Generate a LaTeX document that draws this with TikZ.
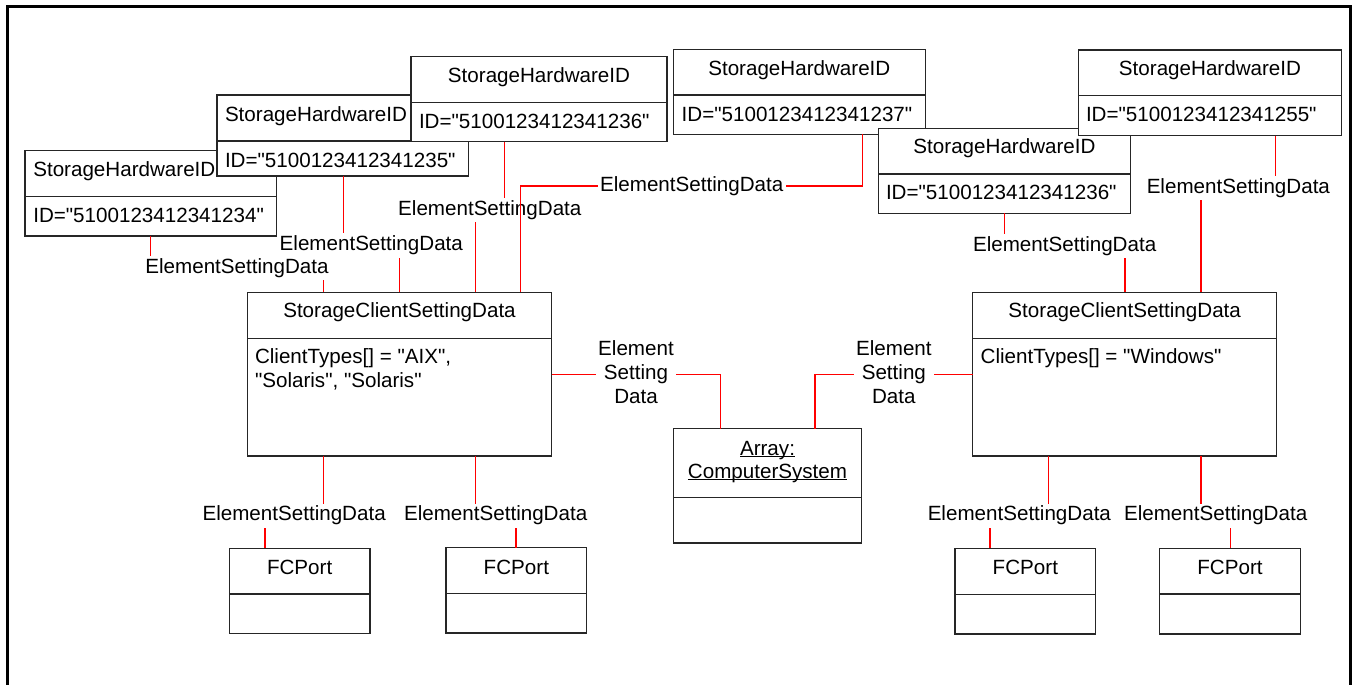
\documentclass[tikz,border=0pt]{standalone}
\usepackage{fontspec}
\setmainfont{Liberation Sans}[Ligatures=TeXOff]
\newcommand{\myul}[1]{\setbox0\hbox{#1}\rlap{\rule[-1.8pt]{\wd0}{1pt}}\box0}
\newcommand{\umlclass}[5]{%
  \node[cbox, minimum width=#3pt, minimum height=#5pt] (#1) at (#2) {};
  \draw[cline] ([yshift=-#4pt]#1.north west) -- ([yshift=-#4pt]#1.north east);}
\tikzset{
  cbox/.style={draw=black!85, fill=white, line width=1.2pt, anchor=north west, inner sep=0pt, outer sep=0pt},
  cline/.style={draw=black!85, line width=1.2pt},
  txt/.style={inner sep=0pt, outer sep=0pt, text=black, font=\fontsize{20.6}{24}\selectfont},
  conn/.style={draw=red, line width=1.5pt},
  lab/.style={fill=white, inner sep=2.5pt, text=black, font=\fontsize{20.6}{24}\selectfont},
  lab3/.style={lab, inner sep=2pt, align=center},
  frameline/.style={draw=black, line width=2.5pt}
}
\begin{document}
\begin{tikzpicture}[x=1pt,y=-1pt]
\useasboundingbox (0,0) rectangle (1354,685);
\draw[frameline] (7.7,685) -- (7.7,6.7) -- (1350.3,6.7) -- (1350.3,685);

% ---- left StorageHardwareID boxes
\umlclass{b1}{25,150.7}{251.7}{46}{85.3}
\node[txt, anchor=base west] (b1t) at ([xshift=8.3pt,yshift=-26pt]b1.north west) {StorageHardwareID};
\node[txt, anchor=base west] (b1a) at ([xshift=8.3pt,yshift=-72pt]b1.north west) {ID="5100123412341234"};

\umlclass{b2}{217,95}{251.7}{46}{81}
\node[txt, anchor=base west] (b2t) at ([xshift=8pt,yshift=-26pt]b2.north west) {StorageHardwareID};
\node[txt, anchor=base west] (b2a) at ([xshift=8pt,yshift=-72.3pt]b2.north west) {ID="5100123412341235"};

\umlclass{b3}{411,56.7}{256}{45.6}{85}
\node[txt, anchor=base] (b3t) at ([yshift=-26pt]b3.north) {StorageHardwareID};
\node[txt, anchor=base west] (b3a) at ([xshift=8pt,yshift=-71.6pt]b3.north west) {ID="5100123412341236"};

% ---- right StorageHardwareID boxes
\umlclass{b4}{673.3,49.3}{252}{45.7}{85}
\node[txt, anchor=base] (b4t) at ([yshift=-25.7pt]b4.north) {StorageHardwareID};
\node[txt, anchor=base west] (b4a) at ([xshift=8.4pt,yshift=-71.7pt]b4.north west) {ID="5100123412341237"};

\umlclass{b5}{878.3,128.3}{252.4}{45.7}{85}
\node[txt, anchor=base] (b5t) at ([yshift=-25.3pt]b5.north) {StorageHardwareID};
\node[txt, anchor=base west] (b5a) at ([xshift=7.7pt,yshift=-71.2pt]b5.north west) {ID="5100123412341236"};

\umlclass{b6}{1078.3,50}{263.4}{45.7}{85.7}
\node[txt, anchor=base] (b6t) at ([yshift=-25.3pt]b6.north) {StorageHardwareID};
\node[txt, anchor=base west] (b6a) at ([xshift=7.7pt,yshift=-71.7pt]b6.north west) {ID="5100123412341255"};

% ---- StorageClientSettingData boxes
\umlclass{sL}{247.3,292.3}{304.4}{46}{163.7}
\node[txt, anchor=base] (sLt) at ([yshift=-25.4pt]sL.north) {StorageClientSettingData};
\node[txt, anchor=north west, align=left] (sLa) at ([xshift=7.7pt,yshift=-56pt]sL.north west) {ClientTypes[] = "AIX",\\"Solaris", "Solaris"};

\umlclass{sR}{972.7,292.3}{304}{46}{163.7}
\node[txt, anchor=base] (sRt) at ([yshift=-25.4pt]sR.north) {StorageClientSettingData};
\node[txt, anchor=north west, align=left] (sRa) at ([xshift=8pt,yshift=-56pt]sR.north west) {ClientTypes[] = "Windows"};

% ---- Array
\umlclass{arr}{673.3,428.7}{188.4}{68.6}{114.3}
\node[txt, anchor=north, align=center, font=\fontsize{20.6}{23.3}\selectfont] (arrt) at ([yshift=-12.3pt]arr.north) {\myul{Array:}\\\myul{ComputerSystem}};

% ---- FCPorts
\umlclass{f1}{229.3,548.3}{140.7}{45.7}{85}
\node[txt, anchor=base] (f1t) at ([yshift=-25.7pt]f1.north) {FCPort};
\umlclass{f2}{446,547.7}{140.7}{46}{85.3}
\node[txt, anchor=base] (f2t) at ([yshift=-26.3pt]f2.north) {FCPort};
\umlclass{f3}{955,548.3}{140.7}{46}{85.7}
\node[txt, anchor=base] (f3t) at ([yshift=-25.7pt]f3.north) {FCPort};
\umlclass{f4}{1159.7,548.3}{140.6}{45.7}{85.7}
\node[txt, anchor=base] (f4t) at ([yshift=-25.7pt]f4.north) {FCPort};

% ---- connectors
\draw[conn] ([xshift=125.7pt]b1.south west) -- ++(0,32.3) -| node[lab,pos=0.25] (l1) {ElementSettingData} ([xshift=76pt]sL.north west);
\draw[conn] ([xshift=126.3pt]b2.south west) -- ++(0,69.5) -| node[lab,pos=0.25] (l2) {ElementSettingData} ([xshift=152pt]sL.north west);
\draw[conn] ([xshift=93.3pt]b3.south west) -- ++(0,68.6) -| node[lab,pos=0.25] (l3) {ElementSettingData} ([xshift=228pt]sL.north west);
\draw[conn] ([xshift=189.4pt]b4.south west) -- ++(0,51.7) -| node[lab,pos=0.25] (l4) {ElementSettingData} ([xshift=273.4pt]sL.north west);
\draw[conn] ([xshift=126pt]b5.south west) -- ++(0,32.7) -| node[lab,pos=0.25] (l5) {ElementSettingData} ([xshift=152.3pt]sR.north west);
\draw[conn] ([xshift=197.4pt]b6.south west) -- ++(0,52) -| node[lab,pos=0.25] (l6) {ElementSettingData} ([xshift=228.3pt]sR.north west);

\draw[conn] ([yshift=-82pt]sL.north east) -| node[lab3,pos=0.25,yshift=1.7pt] (l7) {Element\\Setting\\Data} ([xshift=47pt]arr.north west);
\draw[conn] ([xshift=141.7pt]arr.north west) |- node[lab3,pos=0.75,yshift=1.7pt] (l8) {Element\\Setting\\Data} ([yshift=-82pt]sR.north west);

\draw[conn] ([xshift=76pt]sL.south west) -- ++(0,59.6) -| node[lab,pos=0.25] (l9) {ElementSettingData} ([xshift=35.7pt]f1.north west);
\draw[conn] ([xshift=228pt]sL.south west) -- ++(0,59.6) -| node[lab,pos=0.25] (l10) {ElementSettingData} ([xshift=70pt]f2.north west);
\draw[conn] ([xshift=76pt]sR.south west) -- ++(0,59.6) -| node[lab,pos=0.25] (l11) {ElementSettingData} ([xshift=35pt]f3.north west);
\draw[conn] ([xshift=228.3pt]sR.south west) -- ++(0,59.6) -| node[lab,pos=0.25] (l12) {ElementSettingData} ([xshift=70.6pt]f4.north west);
\end{tikzpicture}
\end{document}
